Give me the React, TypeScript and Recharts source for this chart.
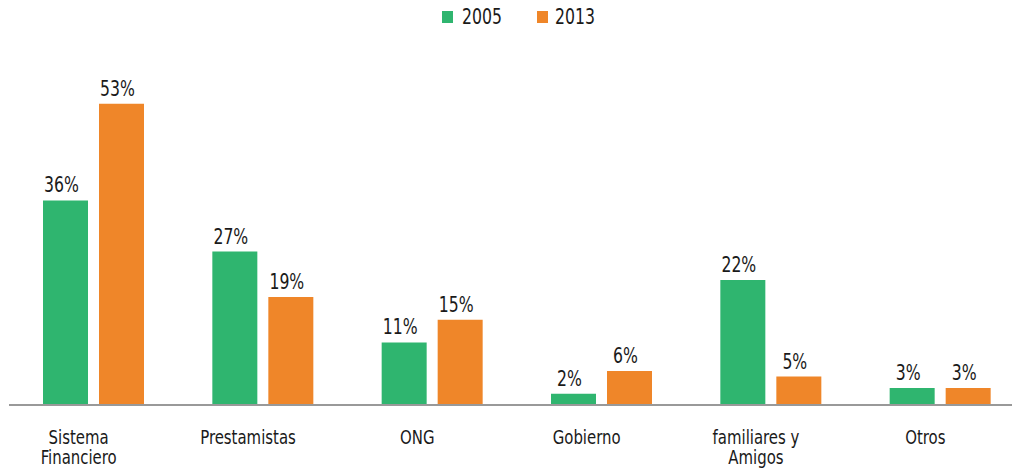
import React from 'react';
import { BarChart, Bar, XAxis, YAxis, LabelList } from 'recharts';

const categories = ['Sistema\nFinanciero', 'Prestamistas', 'ONG', 'Gobierno', 'familiares y\nAmigos', 'Otros'];
const values2005 = [36, 27, 11, 2, 22, 3];
const values2013 = [53, 19, 15, 6, 5, 3];
const seriesNames = ['2005', '2013'];

const data = categories.map((name, i) => ({
  name,
  y2005: values2005[i],
  y2013: values2013[i],
}));

const GREEN = '#2fb56f';
const ORANGE = '#ef8629';
const INK = '#1a1a1a';
const FONT = "'DejaVu Sans Condensed', 'DejaVu Sans', sans-serif";
// the original face is narrower than anything installed, so squeeze it
const SQUEEZE = 0.83;

const CategoryTick = (props: any) => {
  const { x, y, payload } = props;
  const lines = String(payload.value).split('\n');
  return (
    <g transform={`translate(${x - 15},${y}) scale(${SQUEEZE},1)`}>
      <text x={0} y={0} textAnchor="middle" fontFamily={FONT} fontSize={20} fill={INK}>
        {lines.map((line, i) => (
          <tspan key={i} x={0} dy={i === 0 ? 31 : 20}>
            {line}
          </tspan>
        ))}
      </text>
    </g>
  );
};

const ValueLabel = (props: any) => {
  const { x, y, width, value } = props;
  const cx = x + width / 2 - 4;
  return (
    <g transform={`translate(${cx},${y - 8}) scale(${SQUEEZE},1)`}>
      <text x={0} y={0} textAnchor="middle" fontFamily={FONT} fontSize={21} fill={INK}>
        {`${value}%`}
      </text>
    </g>
  );
};

const legendText: React.CSSProperties = {
  position: 'absolute',
  top: 0,
  lineHeight: '22px',
  transform: `scaleX(${SQUEEZE})`,
  transformOrigin: 'left center',
  whiteSpace: 'nowrap',
};

export default function App() {
  return (
    <div style={{ position: 'absolute', left: 0, top: 0, width: 1012, height: 472, overflow: 'hidden', background: '#fff' }}>
      <div style={{ position: 'absolute', top: 6, left: 0, width: 1012, fontFamily: FONT, fontSize: 21, color: INK }}>
        <div style={{ position: 'absolute', left: 442, top: 5, width: 11, height: 12, background: GREEN }} />
        <div style={{ ...legendText, left: 462 }}>{seriesNames[0]}</div>
        <div style={{ position: 'absolute', left: 537, top: 5, width: 11, height: 12, background: ORANGE }} />
        <div style={{ ...legendText, left: 555 }}>{seriesNames[1]}</div>
      </div>
      <BarChart
        width={1030}
        height={472}
        data={data}
        margin={{ top: 64, right: 5, bottom: 0, left: 9 }}
        barGap={11}
        barSize={45}
      >
        <XAxis
          dataKey="name"
          height={67}
          tickLine={false}
          axisLine={{ stroke: '#999', strokeWidth: 2 }}
          tick={<CategoryTick />}
          interval={0}
        />
        <YAxis hide domain={[0, 60]} />
        <Bar dataKey="y2005" name={seriesNames[0]} fill={GREEN} isAnimationActive={false}>
          <LabelList dataKey="y2005" content={<ValueLabel />} />
        </Bar>
        <Bar dataKey="y2013" name={seriesNames[1]} fill={ORANGE} isAnimationActive={false}>
          <LabelList dataKey="y2013" content={<ValueLabel />} />
        </Bar>
      </BarChart>
    </div>
  );
}
